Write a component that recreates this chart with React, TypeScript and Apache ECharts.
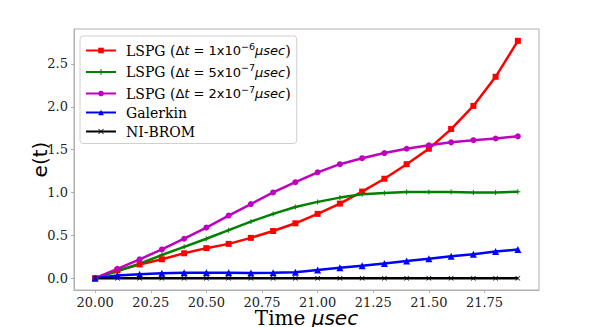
import React, { useEffect, useRef } from "react";
import * as echarts from "echarts";

const times = [20.0, 20.1, 20.2, 20.3, 20.4, 20.5, 20.6, 20.7, 20.8, 20.9, 21.0, 21.1, 21.2, 21.3, 21.4, 21.5, 21.6, 21.7, 21.8, 21.9];
const lspg1 = [0, 0.09, 0.16, 0.22, 0.29, 0.35, 0.4, 0.47, 0.55, 0.64, 0.75, 0.87, 1.01, 1.16, 1.33, 1.51, 1.74, 2.01, 2.35, 2.77];
const lspg5 = [0, 0.08, 0.17, 0.27, 0.365, 0.46, 0.56, 0.66, 0.75, 0.83, 0.89, 0.94, 0.98, 0.995, 1.005, 1.005, 1.005, 1.0, 1.0, 1.008];
const lspg2 = [0, 0.108, 0.22, 0.335, 0.46, 0.59, 0.73, 0.865, 1.0, 1.12, 1.235, 1.33, 1.4, 1.46, 1.51, 1.55, 1.585, 1.61, 1.63, 1.655];
const galerkin = [0, 0.03, 0.045, 0.058, 0.062, 0.063, 0.062, 0.06, 0.062, 0.07, 0.095, 0.12, 0.145, 0.17, 0.2, 0.225, 0.255, 0.28, 0.31, 0.335];
const nibrom = [0, 0, 0, 0, 0, 0, 0, 0, 0, 0, 0, 0, 0, 0, 0, 0, 0, 0, 0, 0];
const xTicks = [20.0, 20.25, 20.5, 20.75, 21.0, 21.25, 21.5, 21.75];
const yTicks = [0, 0.5, 1.0, 1.5, 2.0, 2.5];

const names = ["lspg1", "lspg5", "lspg2", "Galerkin", "NI-BROM"];

const SERIF = "DejaVu Serif";
const SANS = "DejaVu Sans";

const X_PATH = "path://M0,1 L1,0 L5,4 L9,0 L10,1 L6,5 L10,9 L9,10 L5,6 L1,10 L0,9 L4,5 Z";
const PLUS_PATH = "path://M4,0 H6 V4 H10 V6 H6 V10 H4 V6 H0 V4 H4 Z";

const legendLabel = (coef: string, exp: string) =>
  `{n|LSPG (}{m|Δ}{i|t}{m| = ${coef}x10}{s|−${exp}}{i|μsec}{n|)}`;

export default function App() {
  const ref = useRef<HTMLDivElement>(null);
  useEffect(() => {
    if (!ref.current) return;
    const chart = echarts.init(ref.current, null, { renderer: "svg" });
    const mk = (vals: number[]) => times.map((t, i) => [t, vals[i]]);
    const line = (name: string, vals: number[], color: string, symbol: string, size: number) => ({
      name,
      type: "line",
      data: mk(vals),
      symbol,
      symbolSize: size,
      showSymbol: true,
      lineStyle: { color, width: 2.5 },
      itemStyle: { color },
      z: 2,
    });
    chart.setOption({
      animation: false,
      grid: { left: 74, right: 59, top: 29, bottom: 37, containLabel: false, outerBoundsMode: "none" },
      xAxis: {
        type: "value",
        min: 19.905,
        max: 21.995,
        name: "{a|Time }{b|μsec}",
        nameLocation: "middle",
        nameGap: 19,
        nameMoveOverlap: false,
        nameTextStyle: {
          rich: {
            a: { fontFamily: SERIF, fontSize: 20, lineHeight: 18, color: "#000" },
            b: { fontFamily: SANS, fontStyle: "italic", fontSize: 20, lineHeight: 18, color: "#000" },
          },
        },
        axisLine: { onZero: false, lineStyle: { color: "#b0b0b0", width: 1 } },
        axisTick: { show: true, customValues: xTicks, length: 3, lineStyle: { color: "#b0b0b0" } },
        axisLabel: {
          customValues: xTicks,
          formatter: (v: number) => v.toFixed(2),
          fontFamily: SERIF,
          fontSize: 13,
          lineHeight: 13,
          color: "#222",
          margin: 6,
        },
        splitLine: { show: false },
      },
      yAxis: {
        type: "value",
        min: -0.1385,
        max: 2.908,
        name: "e(t)",
        nameLocation: "middle",
        nameGap: 24,
        nameMoveOverlap: false,
        nameTextStyle: { fontFamily: SANS, fontSize: 20, color: "#000" },
        axisLine: { show: true, onZero: false, lineStyle: { color: "#b0b0b0", width: 1 } },
        axisTick: { show: true, customValues: yTicks, length: 3, lineStyle: { color: "#b0b0b0" } },
        axisLabel: {
          customValues: yTicks,
          formatter: (v: number) => v.toFixed(1),
          fontFamily: SERIF,
          fontSize: 13,
          color: "#222",
          margin: 6,
        },
        splitLine: { show: false },
      },
      graphic: [
        {
          type: "rect",
          shape: { x: 74, y: 29, width: 465, height: 261 },
          style: { fill: "none", stroke: "#b0b0b0", lineWidth: 1 },
          silent: true,
          z: 0,
        },
      ],
      legend: {
        left: 80,
        top: 36,
        orient: "vertical",
        itemWidth: 30,
        itemHeight: 7,
        itemGap: 5,
        padding: [5, 6, 5, 5],
        borderColor: "#d0d0d0",
        borderWidth: 1,
        borderRadius: 3,
        backgroundColor: "#fff",
        data: names,
        formatter: (n: string) => {
          if (n === "lspg1") return legendLabel("1", "6");
          if (n === "lspg5") return legendLabel("5", "7");
          if (n === "lspg2") return legendLabel("2", "7");
          return `{n|${n}}`;
        },
        textStyle: {
          padding: [0, 0, 0, 5],
          rich: {
            n: { fontFamily: SERIF, fontSize: 14, color: "#000", lineHeight: 16 },
            m: { fontFamily: SANS, fontSize: 13, color: "#000", lineHeight: 16 },
            i: { fontFamily: SANS, fontStyle: "italic", fontSize: 13, color: "#000", lineHeight: 16 },
            s: { fontFamily: SANS, fontSize: 9.5, color: "#000", padding: [0, 0, 9, 0] },
          },
        },
      },
      series: [
        line("lspg1", lspg1, "#ff0000", "rect", 6),
        line("lspg5", lspg5, "#008000", PLUS_PATH, 5),
        line("lspg2", lspg2, "#bf00bf", "circle", 6),
        line("Galerkin", galerkin, "#0000ff", "triangle", 7),
        line("NI-BROM", nibrom, "#000000", X_PATH, 5),
      ],
    });
    return () => chart.dispose();
  }, []);
  return <div ref={ref} style={{ width: 598, height: 327, position: "absolute", left: 0, top: 0 }} />;
}
